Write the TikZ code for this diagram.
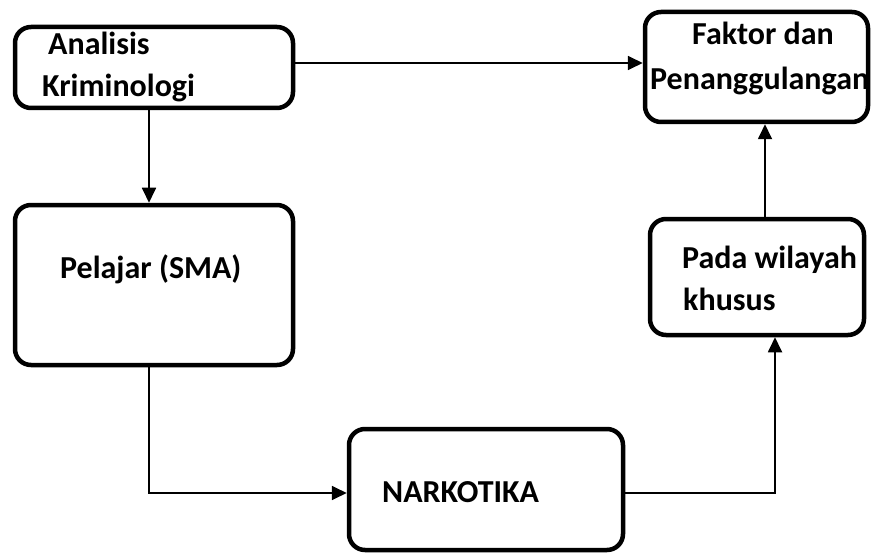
\documentclass[tikz,border=0pt]{standalone}
\usepackage{fontspec}
\setmainfont{Carlito}
\usetikzlibrary{arrows.meta}
\begin{document}
\begin{tikzpicture}[x=1pt,y=-1pt,
  box/.style={draw,line width=4.5pt,rounded corners=16pt,inner sep=0pt},
  lbl/.style={anchor=base west,inner sep=0pt,font=\fontsize{32}{38}\selectfont\bfseries},
  conn/.style={line width=1.8pt},
  arr/.style={conn,-{Triangle[length=15pt,width=14pt]}}]
\useasboundingbox (0,0) rectangle (872,556);
\node[box,minimum width=278pt,minimum height=81pt] (b1) at (154,67.5) {};
\node[box,minimum width=223pt,minimum height=110pt] (b3) at (756.5,67) {};
\node[box,minimum width=278pt,minimum height=160pt] (b2) at (154,285) {};
\node[box,minimum width=214pt,minimum height=116pt] (b4) at (757,277) {};
\node[box,minimum width=274pt,minimum height=121pt] (b5) at (486,489.5) {};
\node[lbl] (t1a) at (48,55) {Analisis};
\node[lbl] (t1b) at (42,97) {Kriminologi};
\node[lbl] (t3a) at (692,45) {Faktor dan};
\node[lbl] (t3b) at (650,90) {Penanggulangan};
\node[lbl] (t2) at (60,278) {Pelajar (SMA)};
\node[lbl] (t4a) at (682,268) {Pada wilayah};
\node[lbl] (t4b) at (683,310) {khusus};
\node[lbl] (t5) at (382,502) {NARKOTIKA};
\draw[arr] ([yshift=4.5pt]b1.east) -- ([yshift=4.5pt]b1.east -| b3.west);
\draw[arr] ([xshift=-5pt]b1.south) -- ([xshift=-5pt]b2.north);
\draw[arr] ([xshift=-5pt]b2.south) |- ([yshift=-3.5pt]b5.west);
\draw[arr] ([yshift=-3.5pt]b5.east) -| ([xshift=18pt]b4.south);
\draw[arr] ([xshift=8pt]b4.north) -- ([xshift=8pt]b4.north |- b3.south);
\end{tikzpicture}
\end{document}
